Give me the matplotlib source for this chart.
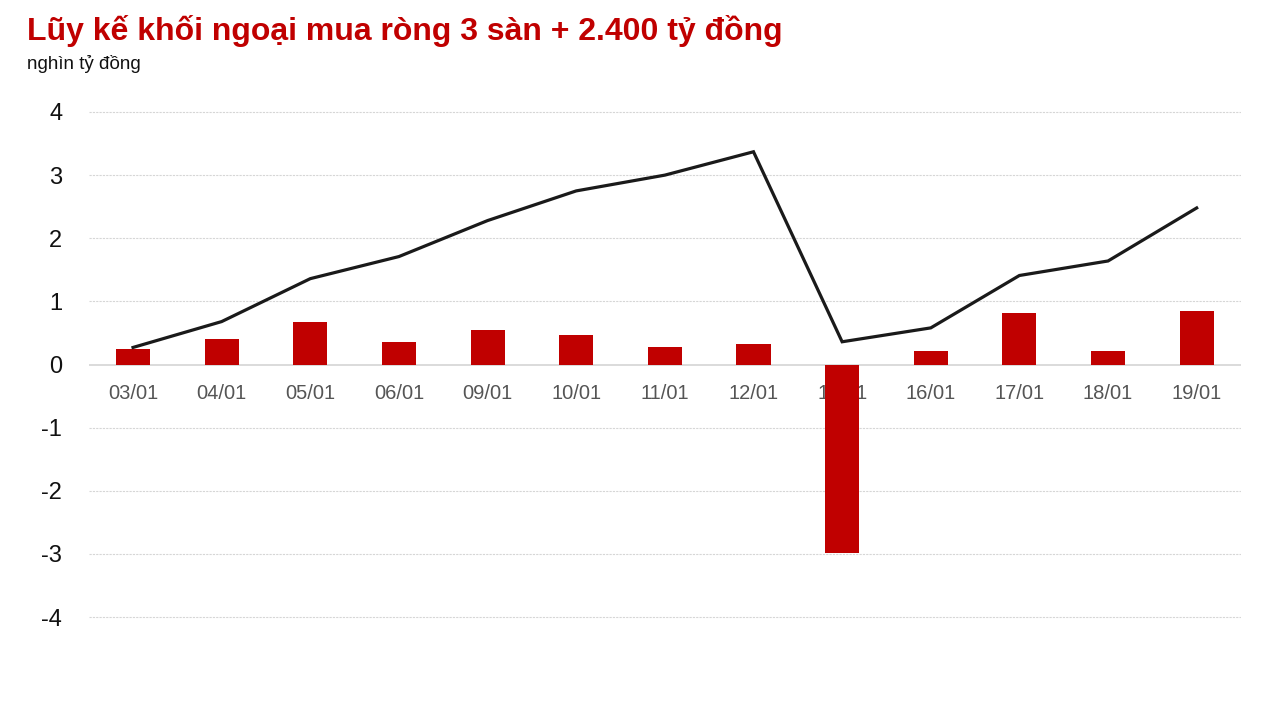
import matplotlib
matplotlib.use("Agg")
import matplotlib.pyplot as plt
from matplotlib.transforms import offset_copy

categories = ["03/01", "04/01", "05/01", "06/01", "09/01", "10/01", "11/01",
              "12/01", "13/01", "16/01", "17/01", "18/01", "19/01"]
daily_net = [0.25, 0.41, 0.68, 0.36, 0.55, 0.46, 0.27, 0.33, -2.99, 0.22, 0.82, 0.22, 0.84]
cumulative = [0.27, 0.68, 1.36, 1.71, 2.28, 2.75, 3.00, 3.37, 0.36, 0.58, 1.41, 1.64, 2.48]
y_ticks = [4, 3, 2, 1, 0, -1, -2, -3, -4]

title = "Lũy kế khối ngoại mua ròng 3 sàn + 2.400 tỷ đồng"
subtitle = "nghìn tỷ đồng"

plt.rcParams['font.family'] = ['Liberation Sans', 'DejaVu Sans']

fig = plt.figure(figsize=(12.81, 7.21), dpi=100)
W, H = 1281, 721
top_px, bot_px = 112, 617
ext = 0.05
unit = (bot_px - top_px) / 8.0
ax = fig.add_axes([88.7 / W, (H - bot_px - ext * unit) / H,
                   (1241 - 88.7) / W, (bot_px - top_px + 2 * ext * unit) / H])

x = list(range(len(categories)))
ax.bar(x, daily_net, width=0.385, color="#C00000", zorder=3)
ax.plot(x, cumulative, color="#1a1a1a", linewidth=2.3, zorder=4,
        solid_joinstyle="miter")

ax.set_xlim(-0.5, len(categories) - 0.5)
ax.set_ylim(-4 - ext, 4 + ext)
ax.set_yticks(y_ticks)
ax.set_yticklabels([str(v) for v in y_ticks])
ax.tick_params(axis="y", length=0, pad=19, labelsize=17, labelcolor="#111111")
ax.set_xticks([])
for s in ax.spines.values():
    s.set_visible(False)

for v in y_ticks:
    if v == 0:
        ax.axhline(0, color="#d4d4d4", linewidth=1.2, zorder=2)
    else:
        ax.axhline(v, color="#d6d6d6", linewidth=0.8, linestyle=(0, (2, 1)), zorder=1)

trans = offset_copy(ax.transData, fig=fig, x=0, y=-14, units="points")
for i, lab in enumerate(categories):
    ax.text(i, 0, lab, transform=trans, ha="center", va="top",
            fontsize=14.5, color="#555555", zorder=2)

fig.text(27 / W, 1 - 15 / H, title, ha="left", va="top", fontsize=23,
         fontweight="bold", color="#C00000")
fig.text(27 / W, 1 - 55 / H, subtitle, ha="left", va="top", fontsize=13.5,
         color="#111111")

fig.savefig("out.png", dpi=100)
